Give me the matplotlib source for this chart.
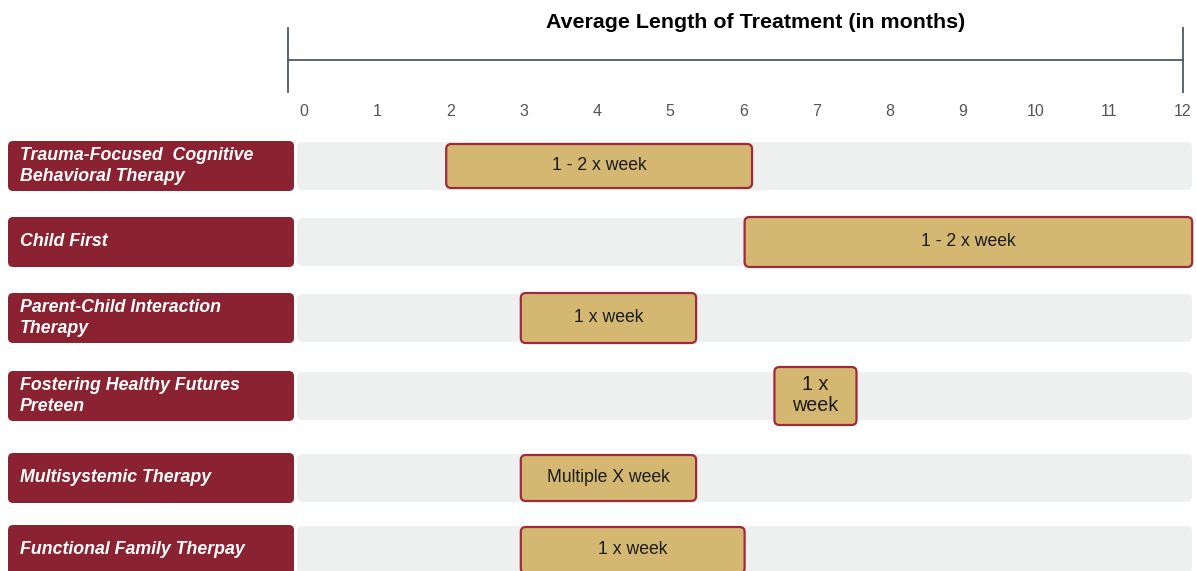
import matplotlib.pyplot as plt
from matplotlib.patches import FancyBboxPatch

# program names, treatment windows (months) and session frequency
therapies = [
    'Trauma-Focused  Cognitive\nBehavioral Therapy',
    'Child First',
    'Parent-Child Interaction\nTherapy',
    'Fostering Healthy Futures\nPreteen',
    'Multisystemic Therapy',
    'Functional Family Therpay',
]
start_month = [2, 6, 3, 6.4, 3, 3]
end_month = [6.1, 12, 5.35, 7.5, 5.35, 6]
frequency = ['1 - 2 x week', '1 - 2 x week', '1 x week', '1 x\nweek',
             'Multiple X week', '1 x week']
months = list(range(13))

plt.rcParams['font.family'] = ['Liberation Sans', 'DejaVu Sans']

W, H = 1197, 571
RED = '#8a2232'
GOLD = '#d4b872'
EDGE = '#9e2a3a'
BAND = '#eeefef'
AXIS = '#4d5966'

# layout in pixels
row_y = [166, 242, 318, 396, 478, 550]
band_h = 48
bar_h = [44, 50, 50, 58, 46, 46]
freq_size = [12.7, 12.7, 12.7, 14.2, 12.7, 12.7]
x0_px, px_per_month = 297, 74.6

fig = plt.figure(figsize=(W / 100, H / 100), dpi=100)
ax = fig.add_axes([0, 0, 1, 1])
ax.set_xlim(-x0_px / px_per_month, (W - x0_px) / px_per_month)
ax.set_ylim(H, 0)
ax.axis('off')


def to_month(px):
    return (px - x0_px) / px_per_month


def rbox(x0, x1, yc, h, r_px, **kw):
    r = r_px / px_per_month
    p = FancyBboxPatch((x0, yc - h / 2), x1 - x0, h,
                       boxstyle=f'round,pad=0,rounding_size={r}',
                       mutation_aspect=px_per_month, **kw)
    ax.add_patch(p)


for i, name in enumerate(therapies):
    y = row_y[i]
    # grey track behind the bar
    rbox(0, 12, y, band_h, 6, facecolor=BAND, edgecolor='none', zorder=1)
    # program label box
    rbox(to_month(8), to_month(294), y, band_h + 2, 5,
         facecolor=RED, edgecolor='none', zorder=1)
    ax.text(to_month(20), y, name, color='white', fontsize=12.8,
            fontweight='bold', fontstyle='italic', va='center', ha='left',
            linespacing=1.3, zorder=3)
    # treatment window bar
    rbox(start_month[i], end_month[i], y, bar_h[i], 5, facecolor=GOLD,
         edgecolor=EDGE, linewidth=1.6, zorder=2)
    ax.text((start_month[i] + end_month[i]) / 2, y - 1, frequency[i],
            fontsize=freq_size[i], color='#1a1a1a', ha='center', va='center',
            linespacing=1.1, zorder=3)

# timeline at the top
tick_x0, tick_step = 304, 73.2
line_left, line_right = to_month(288), to_month(1183)
ax.plot([line_left, line_right], [60, 60], color=AXIS, lw=1.3)
for xe in (line_left, line_right):
    ax.plot([xe, xe], [28, 92], color=AXIS, lw=1.3)
for m in months:
    ax.text(to_month(tick_x0 + tick_step * m), 112, str(m), fontsize=11.5,
            color='#555555', ha='center', va='center')

ax.text(to_month(756), 23, 'Average Length of Treatment (in months)',
        fontsize=15.4, fontweight='bold', color='black', ha='center',
        va='center')

fig.savefig('out.png', dpi=100)
